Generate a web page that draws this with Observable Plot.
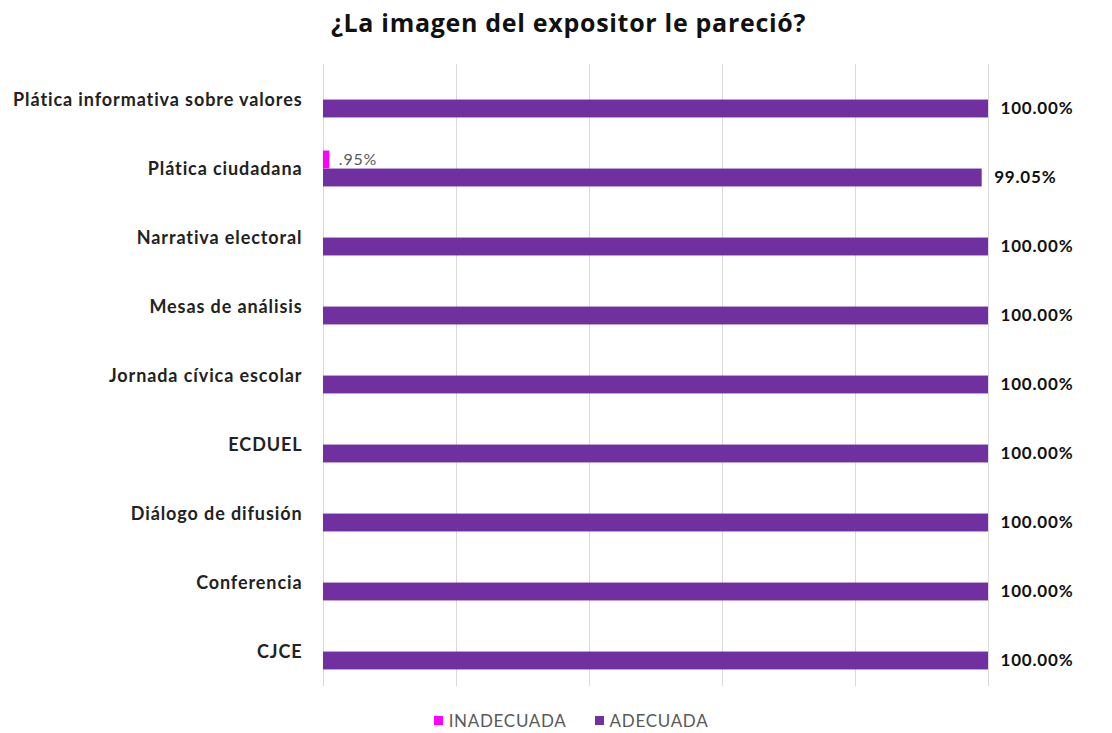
<!DOCTYPE html>
<html>
<head>
<meta charset="utf-8">
<script src="https://cdn.jsdelivr.net/npm/d3@7"></script>
<script src="https://cdn.jsdelivr.net/npm/@observablehq/plot@0.6"></script>
<style>
  html, body { margin: 0; padding: 0; background: #fff; }
  body { width: 1112px; height: 733px; overflow: hidden; font-family: Lato, "Open Sans", sans-serif; }
  #title { height: 50px; line-height: 44px; text-align: center; font-family: "Open Sans", sans-serif; font-weight: bold; font-size: 25px; letter-spacing: 0.7px; color: #111; padding-left: 25px; }
  #legend { display: flex; justify-content: center; gap: 28px; font-size: 17px; letter-spacing: 0.7px; color: #595959; margin-top: 10px; padding-left: 30px; }
  #legend span.sw { display: inline-block; width: 9px; height: 9px; margin-right: 6px; vertical-align: 2px; }
  #chart svg g[aria-label="y-axis tick label"] text { letter-spacing: 0.9px; }
  #chart svg g.vlab text { letter-spacing: 0.8px; }
</style>
</head>
<body>
<div id="title">¿La imagen del expositor le pareció?</div>
<div id="chart"></div>
<div id="legend"></div>
<script>
const categories = [
  "Plática informativa sobre valores",
  "Plática ciudadana",
  "Narrativa electoral",
  "Mesas de análisis",
  "Jornada cívica escolar",
  "ECDUEL",
  "Diálogo de difusión",
  "Conferencia",
  "CJCE"
];
const adecuada   = [100, 99.05, 100, 100, 100, 100, 100, 100, 100];
const inadecuada = [0, 0.95, 0, 0, 0, 0, 0, 0, 0];
const seriesNames = ["INADECUADA", "ADECUADA"];
const seriesColors = ["#FF00FF", "#7030A0"];
const xTicks = [0, 20, 40, 60, 80, 100];

const rowsA = categories.map((c, i) => ({cat: c, v: adecuada[i]}));
const rowsI = categories.map((c, i) => ({cat: c, v: inadecuada[i]}));

const W = 1112, H = 650, mT = 14, mB = 14;
const bw = (H - mT - mB) / categories.length;
const barH = 18;

const fmtA = v => d3.format(".2f")(v) + "%";
const fmtI = v => d3.format(".2f")(v).replace(/^0/, "") + "%";

const chart = Plot.plot({
  width: W,
  height: H,
  marginLeft: 323,
  marginRight: 124,
  marginTop: mT,
  marginBottom: mB,
  style: {fontFamily: "Lato, 'Open Sans', sans-serif"},
  x: {domain: [0, 100], axis: null},
  y: {domain: categories, padding: 0, label: null},
  marks: [
    Plot.ruleX(xTicks, {stroke: "#d9d9d9", strokeWidth: 1}),
    Plot.barX(rowsA, {x: "v", y: "cat", fill: seriesColors[1], insetTop: bw / 2, insetBottom: bw / 2 - barH}),
    Plot.barX(rowsI, {x: "v", y: "cat", fill: seriesColors[0], insetTop: bw / 2 - barH, insetBottom: bw / 2}),
    Plot.text(rowsA, {x: "v", y: "cat", text: d => fmtA(d.v), dx: 12, dy: barH / 2, textAnchor: "start", fontSize: 17, fontWeight: "bold", fill: "#111"}),
    Plot.text(rowsI.filter(d => d.v > 0), {x: "v", y: "cat", text: d => fmtI(d.v), dx: 9, dy: -barH / 2, textAnchor: "start", fontSize: 16, fill: "#595959"}),
    Plot.axisY({tickSize: 0, tickPadding: 21, fontSize: 18, fontWeight: "bold", fill: "#222", label: null})
  ]
});
d3.select(chart).selectAll("g[aria-label='text']").classed("vlab", true);
document.getElementById("chart").appendChild(chart);

const legend = document.getElementById("legend");
seriesNames.forEach((n, i) => {
  const item = document.createElement("div");
  item.innerHTML = `<span class="sw" style="background:${seriesColors[i]}"></span>${n}`;
  legend.appendChild(item);
});
</script>
</body>
</html>
